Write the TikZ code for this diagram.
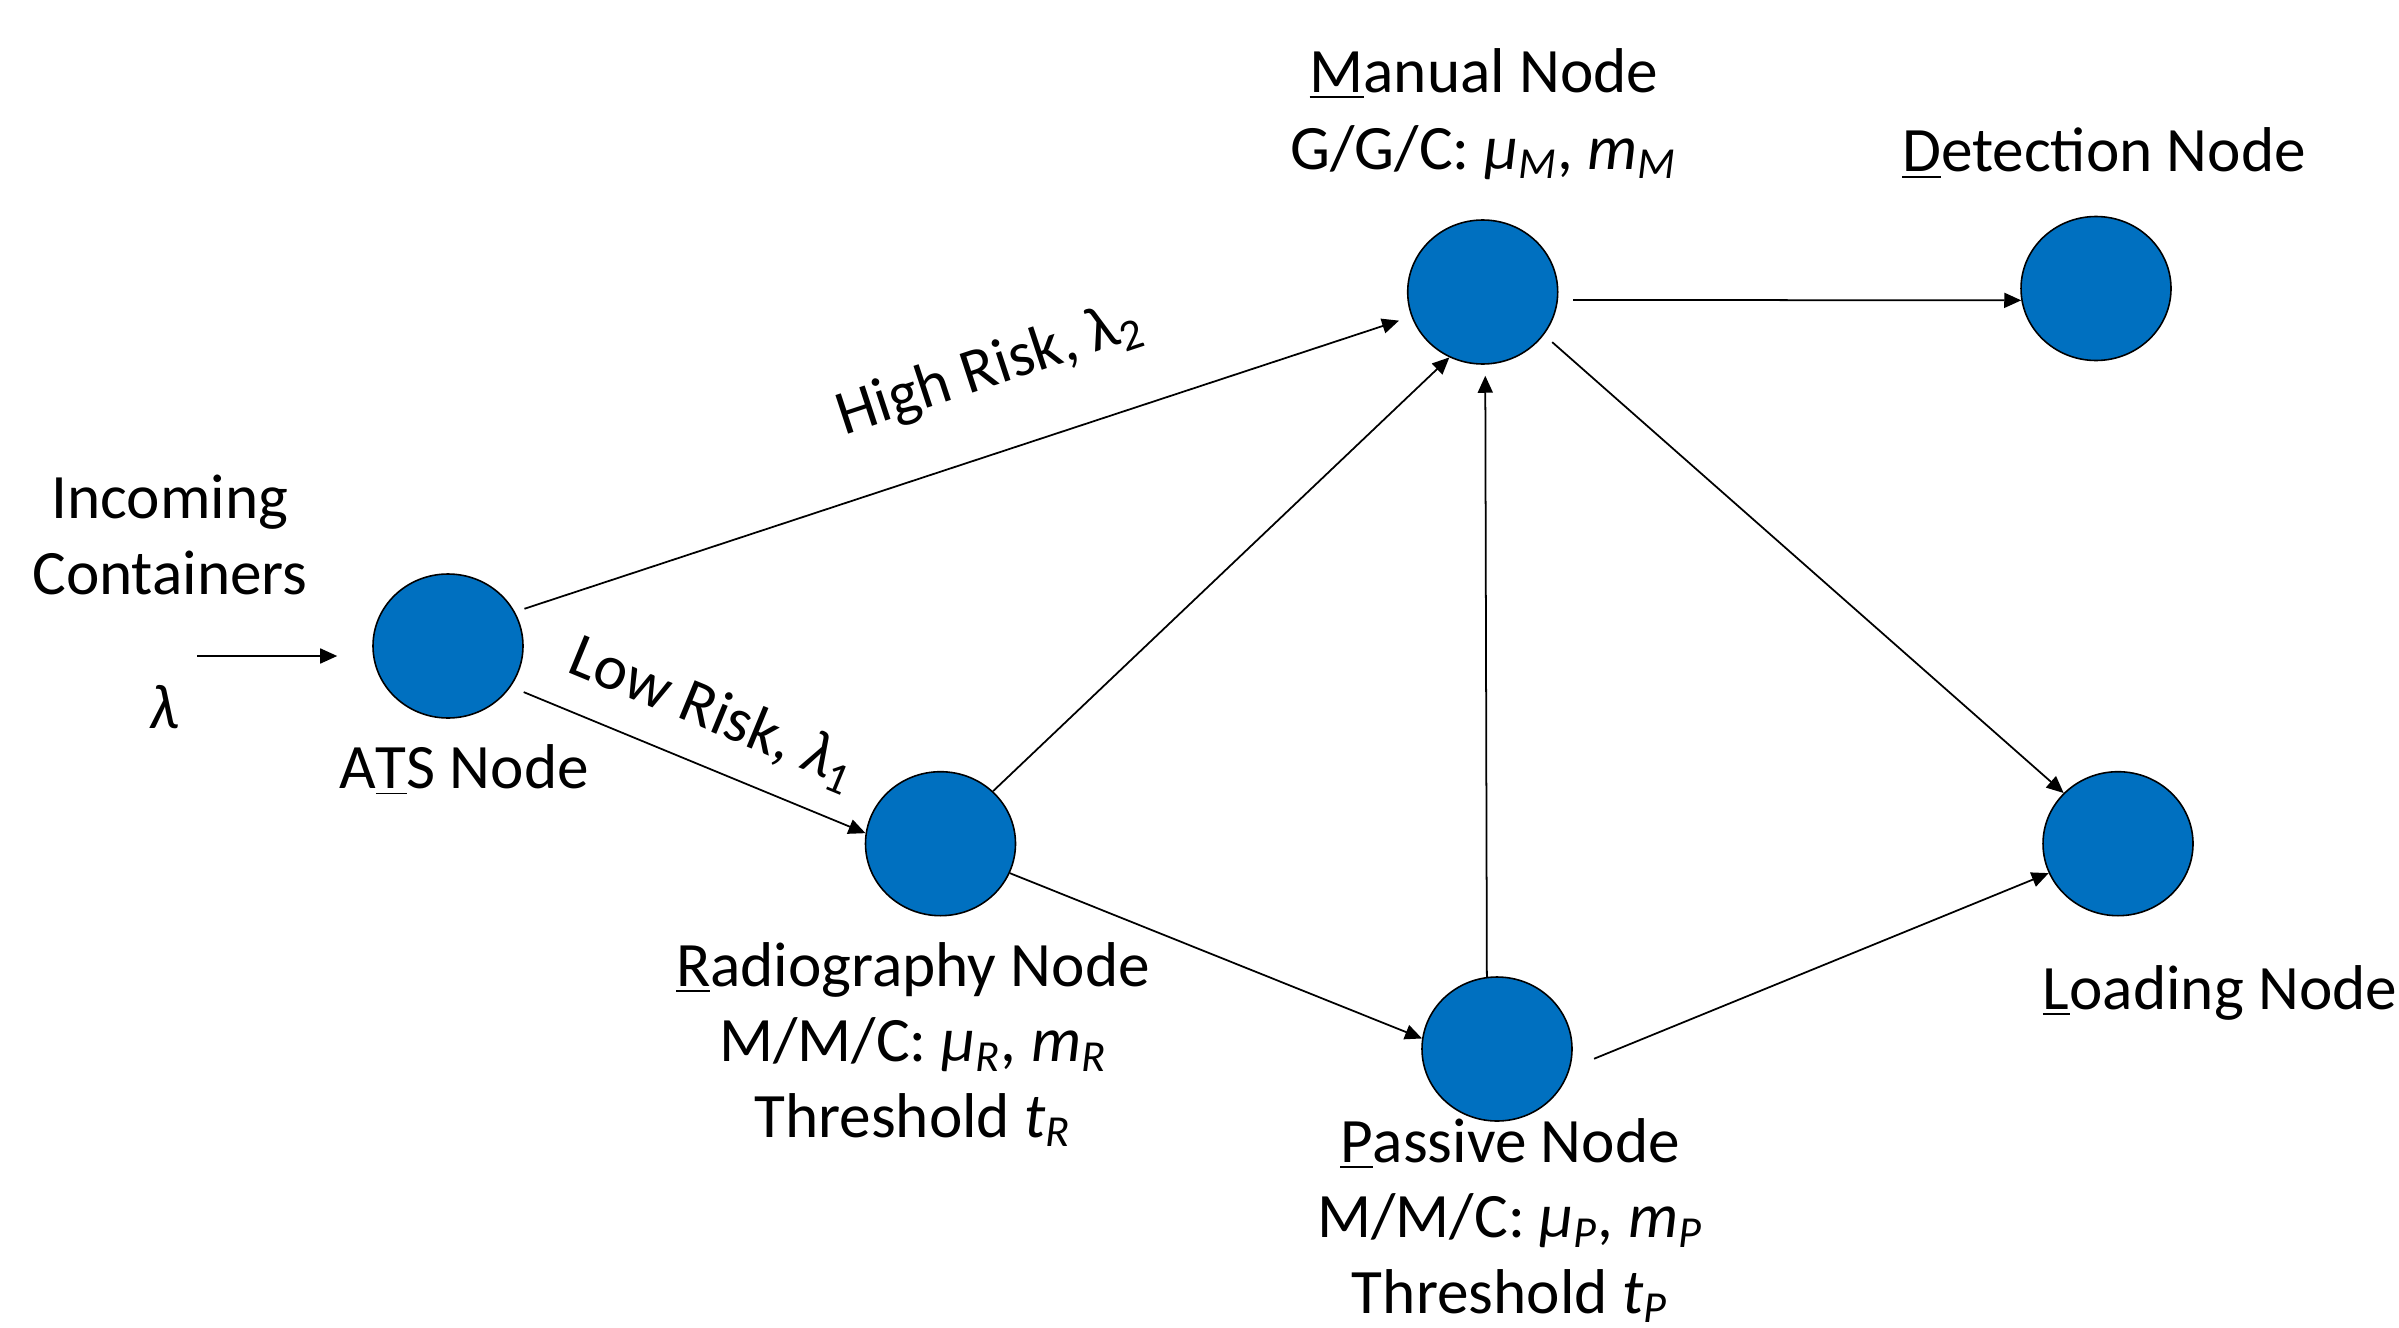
\documentclass[tikz,border=0pt]{standalone}
\usepackage{fontspec}
\setmainfont{Carlito}
\usepackage{xcolor}
\usepackage{tikz}
\usetikzlibrary{positioning,shapes.geometric,arrows.meta}
\definecolor{nodeblue}{RGB}{0,112,192}
\newcommand{\qpar}[2]{\textit{#1}\textsubscript{\textit{#2}}}

\begin{document}
\begin{tikzpicture}[
		on grid,
		vertex/.style={ellipse, draw=black, fill=nodeblue, line width=0.45pt, minimum width=15mm, minimum height=14.4mm, inner sep=0pt},
		lbl/.style={align=center, inner sep=0pt, font=\fontsize{18}{21.6}\selectfont},
		elbl/.style={inner sep=0pt, font=\fontsize{18}{21.6}\selectfont},
		flow/.style={line width=0.5pt, -{Triangle[length=1.7mm, width=1.5mm]}}
	]
		\useasboundingbox (0,0) rectangle (23.99,-13.28);
		\node[vertex] (ats) at (4.48,-6.46) {};
		\node[vertex] (rad) [below right=1.977 and 4.925 of ats] {};
		\node[vertex] (man) [above right=3.54 and 10.347 of ats] {};
		\node[vertex] (det) [above right=0.035 and 6.133 of man] {};
		\node[vertex] (pas) [below right=7.57 and 0.143 of man] {};
		\node[vertex] (loa) [right=11.775 of rad] {};

		\node[lbl] (inclbl) [above left=1.11 and 2.78 of ats] {Incoming\\Containers};
		\node[lbl] (lamlbl) [below left=0.61 and 2.84 of ats] {\textit{λ}};
		\node[lbl] (atslbl) [below right=1.24 and 0.16 of ats] {A\underline{T}S Node};
		\node[lbl, font=\fontsize{18}{22}\selectfont] (manlbl) [above right=1.78 and 0.013 of man] {\underline{M}anual Node\\G/G/C: \qpar{μ}{M}, \qpar{m}{M}};
		\node[lbl] (detlbl) [above right=1.35 and 0.08 of det] {\underline{D}etection Node};
		\node[lbl] (radlbl) [below left=2.008 and 0.275 of rad] {\underline{R}adiography Node\\M/M/C: \qpar{μ}{R}, \qpar{m}{R}\\Threshold \qpar{t}{R}};
		\node[lbl] (paslbl) [below right=1.715 and 0.13 of pas] {\underline{P}assive Node\\M/M/C: \qpar{μ}{P}, \qpar{m}{P}\\Threshold \qpar{t}{P}};
		\node[lbl] (loalbl) [below right=1.49 and 1.02 of loa] {\underline{L}oading Node};

		\coordinate (inbeg) at (1.97,-6.56);
		\draw[flow, shorten >=3.5mm] (inbeg) -- (inbeg -| ats.west);

		\path[every edge/.style={draw, flow}]
		(ats.27) edge[shorten <=1mm, shorten >=1.3mm] node[elbl, pos=.558, above=5.3mm, sloped] {High Risk, λ\textsubscript{2}} (man.199)
		(ats.-33) edge[shorten <=1.4mm] node[elbl, pos=.514, above=2.5mm, sloped] {Low Risk, \textit{λ}\textsubscript{1}} (rad.172)
		(rad.45) edge (man.243)
		(rad.-23) edge (pas.172)
		(pas.98) edge[shorten >=1.1mm] (man.272)
		(pas.-15) edge[shorten <=2.6mm] (loa.203)
		(man.-35) edge[shorten <=1.1mm] (loa.137)
		(man.-6) edge[shorten <=1.5mm] (det.189)
		;
\end{tikzpicture}
\end{document}
